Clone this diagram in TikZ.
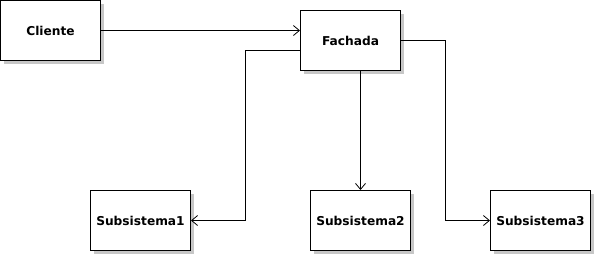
\documentclass[tikz,border=0pt]{standalone}
\usepackage{fontspec}
\setmainfont{DejaVu Sans}
\usetikzlibrary{arrows.meta,shadows}
\begin{document}
\begin{tikzpicture}[x=1pt,y=-1pt,
  box/.style={draw=black,line width=1pt,fill=white,minimum width=100pt,minimum height=60pt,
    inner sep=0pt,font=\fontsize{12.2}{14}\selectfont\bfseries,
    drop shadow={shadow xshift=3pt,shadow yshift=-3pt,fill=black!22,opacity=1}},
  link/.style={draw=black,line width=0.8pt,-{Straight Barb[length=6pt,width=10pt]}}]
\useasboundingbox (0,0) rectangle (595,255);
\node[box] (cli) at (50.5,30.5) {Cliente};
\node[box] (fac) at (350.5,40.5) {Fachada};
\node[box] (s1) at (140.5,220.5) {Subsistema1};
\node[box] (s2) at (360.5,220.5) {Subsistema2};
\node[box] (s3) at (540.5,220.5) {Subsistema3};
\coordinate (k1) at (245.5,50.5);
\coordinate (k3) at (445.5,40.5);
\draw[link] (cli.east) -- (cli.east -| fac.west);
\draw[link] (fac.west |- k1) -- (k1) |- (s1.east);
\draw[link] (fac.south -| s2.north) -- (s2.north);
\draw[link] (fac.east) -- (k3) |- (s3.west);
\end{tikzpicture}
\end{document}
